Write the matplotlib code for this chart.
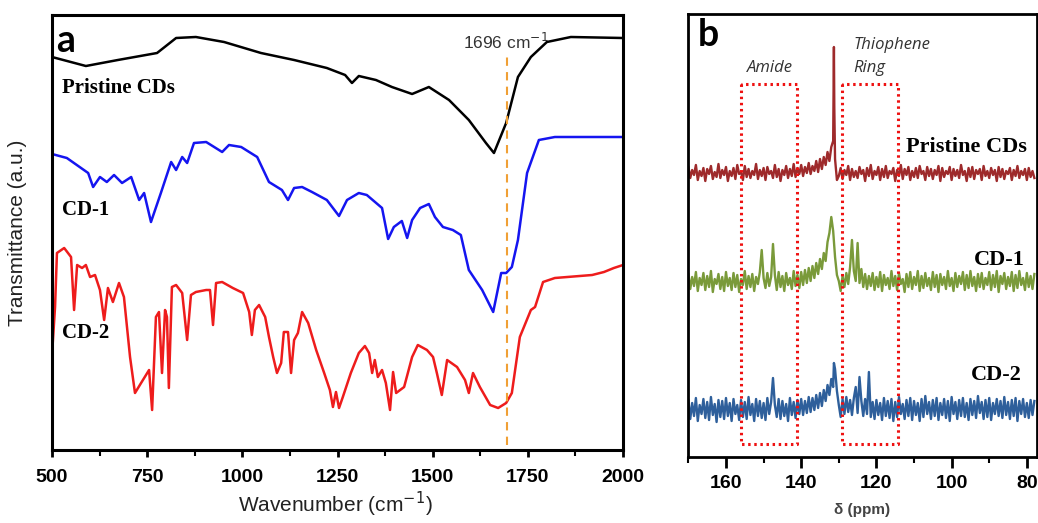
import numpy as np
import matplotlib
matplotlib.use("Agg")
import matplotlib.pyplot as plt
from matplotlib.ticker import MultipleLocator

# ---------------- Panel a: FTIR ----------------
WN_PRISTINE = [500, 589, 673, 776, 826, 878, 952, 1049, 1136, 1222, 1270, 1288, 1306, 1351,
               1393, 1446, 1490, 1543, 1595, 1640, 1661, 1693, 1724, 1758, 1800, 1863, 2000]
T_PRISTINE = [393, 384, 390, 397, 412, 413, 408, 397, 390, 382, 375, 367, 374, 370,
              363, 356, 363, 350, 330, 307, 297, 327, 373, 393, 408, 413, 412]

WN_CD1 = [500, 539, 595, 608, 626, 644, 663, 684, 708, 729, 742, 760, 786, 813, 826, 842, 855,
          873, 905, 926, 947, 965, 997, 1039, 1070, 1104, 1120, 1136, 1157, 1183, 1222, 1254,
          1275, 1306, 1327, 1367, 1383, 1398, 1419, 1433, 1446, 1467, 1490, 1506, 1527, 1553,
          1574, 1595, 1630, 1659, 1680, 1693, 1708, 1724, 1748, 1779, 1821, 2000]
T_CD1 = [296, 292, 277, 263, 273, 268, 275, 267, 273, 250, 257, 228, 257, 288, 280, 293, 287,
         307, 308, 303, 298, 305, 303, 293, 268, 260, 250, 262, 263, 258, 250, 234,
         250, 257, 255, 242, 211, 223, 229, 212, 230, 242, 246, 233, 223, 220,
         215, 180, 160, 138, 177, 177, 183, 210, 277, 310, 313, 313]

WN_CD2 = [500, 508, 513, 532, 550, 558, 566, 579, 589, 600, 613, 626, 637, 647, 660, 676, 689,
          705, 718, 734, 755, 763, 773, 781, 789, 797, 802, 807, 815, 826, 842, 855, 865, 878,
          905, 915, 923, 931, 947, 975, 1002, 1018, 1025, 1033, 1044, 1060, 1070, 1081, 1091,
          1102, 1109, 1120, 1128, 1136, 1146, 1157, 1173, 1194, 1215, 1230, 1238, 1246, 1254,
          1264, 1285, 1306, 1322, 1333, 1341, 1348, 1356, 1367, 1377, 1388, 1396, 1404, 1425,
          1446, 1461, 1485, 1501, 1511, 1524, 1538, 1564, 1585, 1595, 1606, 1624, 1651, 1672,
          1693, 1708, 1729, 1758, 1769, 1790, 1821, 1919, 1950, 1976, 2000]
T_CD2 = [95, 143, 197, 202, 193, 140, 185, 182, 185, 173, 175, 160, 130, 162, 148, 167, 153,
         93, 57, 67, 80, 40, 133, 138, 77, 140, 133, 62, 163, 165, 157, 110, 155, 158,
         160, 160, 125, 167, 168, 162, 157, 138, 115, 140, 145, 133, 113, 93, 77,
         87, 118, 118, 77, 110, 117, 138, 127, 100, 77, 60, 43, 58, 42,
         53, 77, 97, 104, 97, 77, 90, 73, 80, 67, 40, 78, 57, 63,
         93, 105, 100, 93, 77, 55, 90, 83, 70, 57, 77, 63, 45, 42,
         47, 57, 113, 140, 143, 168, 172, 175, 178, 182, 185]

MARK_WN = 1696

# ---------------- Panel b: 13C NMR ----------------
NMR_PPM = [170.0, 169.5, 169.0, 168.5, 168.0, 167.5, 167.0, 166.5, 166.0, 165.5,
           165.0, 164.5, 164.0, 163.5, 163.0, 162.5, 162.0, 161.5, 161.0, 160.5,
           160.0, 159.5, 159.0, 158.5, 158.0, 157.5, 157.0, 156.5, 156.0, 155.5,
           155.0, 154.5, 154.0, 153.5, 153.0, 152.5, 152.0, 151.5, 151.0, 150.5,
           150.0, 149.5, 149.0, 148.5, 148.0, 147.5, 147.0, 146.5, 146.0, 145.5,
           145.0, 144.5, 144.0, 143.5, 143.0, 142.5, 142.0, 141.5, 141.0, 140.5,
           140.0, 139.5, 139.0, 138.5, 138.0, 137.5, 137.0, 136.5, 136.0, 135.5,
           135.0, 134.5, 134.0, 133.5, 133.0, 132.5, 132.0, 131.5, 131.0, 130.5,
           130.0, 129.5, 129.0, 128.5, 128.0, 127.5, 127.0, 126.5, 126.0, 125.5,
           125.0, 124.5, 124.0, 123.5, 123.0, 122.5, 122.0, 121.5, 121.0, 120.5,
           120.0, 119.5, 119.0, 118.5, 118.0, 117.5, 117.0, 116.5, 116.0, 115.5,
           115.0, 114.5, 114.0, 113.5, 113.0, 112.5, 112.0, 111.5, 111.0, 110.5,
           110.0, 109.5, 109.0, 108.5, 108.0, 107.5, 107.0, 106.5, 106.0, 105.5,
           105.0, 104.5, 104.0, 103.5, 103.0, 102.5, 102.0, 101.5, 101.0, 100.5,
           100.0, 99.5, 99.0, 98.5, 98.0, 97.5, 97.0, 96.5, 96.0, 95.5,
           95.0, 94.5, 94.0, 93.5, 93.0, 92.5, 92.0, 91.5, 91.0, 90.5,
           90.0, 89.5, 89.0, 88.5, 88.0, 87.5, 87.0, 86.5, 86.0, 85.5,
           85.0, 84.5, 84.0, 83.5, 83.0, 82.5, 82.0, 81.5, 81.0, 80.5,
           80.0, 79.5, 79.0, 78.5, 78.0]

I_PRISTINE = [290, 279, 287, 282, 292, 277, 286, 281, 289, 276,
              288, 283, 291, 278, 285, 280, 293, 279, 287, 282,
              290, 276, 286, 281, 289, 278, 292, 283, 285, 277,
              291, 280, 288, 279, 286, 282, 293, 278, 287, 281,
              289, 277, 290, 283, 286, 279, 292, 280, 288, 276,
              287, 282, 291, 279, 288, 281, 293, 280, 289, 283,
              292, 281, 290, 284, 294, 283, 291, 286, 296, 285,
              298, 288, 300, 292, 305, 296, 310, 316, 298, 277,
              281, 289, 278, 287, 282, 291, 277, 288, 280, 286,
              279, 290, 283, 287, 276, 289, 281, 292, 278, 286,
              282, 290, 277, 288, 280, 291, 279, 286, 283, 289,
              276, 287, 281, 292, 278, 288, 282, 290, 277, 286,
              280, 289, 279, 291, 283, 286, 277, 290, 281, 288,
              278, 287, 282, 291, 276, 289, 280, 286, 283, 290,
              277, 288, 281, 287, 279, 292, 282, 286, 276, 289,
              280, 290, 278, 287, 283, 288, 277, 291, 281, 286,
              279, 289, 282, 287, 276, 290, 280, 288, 278, 286,
              283, 289, 277, 287, 281, 291, 279, 286, 282, 288,
              277, 289, 280, 286, 279]
PK_PPM_PRISTINE = [131.4, 131.3, 131.2]
PK_I_PRISTINE = [360, 410, 350]

I_CD1 = [183, 168, 180, 171, 185, 166, 179, 172, 184, 167,
         181, 170, 186, 165, 178, 173, 183, 168, 180, 166,
         185, 171, 179, 167, 184, 170, 182, 165, 178, 172,
         186, 168, 181, 170, 183, 166, 180, 173, 185, 207,
         179, 169, 184, 171, 180, 213, 182, 167, 185, 170,
         181, 166, 184, 172, 179, 168, 186, 171, 182, 169,
         185, 172, 187, 174, 189, 176, 191, 179, 194, 183,
         198, 188, 204, 196, 215, 224, 240, 226, 200, 182,
         176, 166, 181, 170, 184, 173, 190, 217, 186, 176,
         214, 174, 188, 170, 183, 168, 181, 171, 184, 167,
         180, 170, 185, 166, 182, 172, 179, 168, 186, 171,
         181, 167, 184, 173, 178, 165, 183, 170, 185, 168,
         180, 172, 186, 166, 181, 169, 184, 171, 179, 167,
         185, 170, 182, 165, 183, 172, 180, 168, 186, 171,
         179, 166, 184, 170, 181, 173, 185, 167, 182, 169,
         186, 171, 180, 166, 183, 170, 184, 168, 179, 172,
         185, 167, 182, 170, 186, 165, 181, 173, 184, 168,
         180, 171, 185, 166, 182, 169, 186, 172, 179, 167,
         184, 170, 181, 168, 183]
PK_PPM_CD1 = []
PK_I_CD1 = []

I_CD2 = [57, 38, 54, 41, 59, 36, 52, 43, 58, 39,
         55, 37, 60, 42, 53, 35, 57, 40, 56, 38,
         59, 41, 54, 36, 58, 43, 52, 37, 57, 40,
         55, 38, 60, 42, 53, 36, 58, 41, 56, 39,
         54, 37, 59, 43, 55, 79, 52, 40, 58, 38,
         56, 41, 53, 36, 59, 42, 55, 39, 57, 43,
         58, 42, 56, 44, 60, 45, 59, 47, 62, 49,
         64, 51, 67, 56, 72, 62, 78, 70, 88, 66,
         52, 40, 58, 43, 60, 45, 57, 42, 59, 70,
         44, 80, 56, 41, 58, 43, 85, 40, 55, 38,
         57, 42, 54, 37, 59, 41, 56, 39, 58, 36,
         55, 40, 60, 43, 53, 38, 57, 41, 59, 37,
         56, 42, 54, 36, 58, 40, 61, 43, 55, 38,
         57, 41, 59, 37, 54, 42, 58, 39, 56, 36,
         60, 43, 55, 38, 57, 41, 59, 40, 54, 37,
         58, 42, 56, 39, 61, 44, 55, 38, 57, 40,
         59, 37, 54, 43, 58, 41, 56, 39, 60, 42,
         55, 38, 57, 41, 59, 36, 56, 43, 58, 40,
         54, 39, 57, 42, 56]
PK_PPM_CD2 = [131.3]
PK_I_CD2 = [94]

BOX_AMIDE = (156.0, 141.1)
BOX_THIO = (129.1, 114.3)
BOX_LOW, BOX_HIGH = 13, 373


def merged(ppm, val, pk_ppm, pk_val):
    x = np.array(list(ppm) + list(pk_ppm), dtype=float)
    y = np.array(list(val) + list(pk_val), dtype=float)
    order = np.argsort(-x, kind="stable")
    return x[order], y[order]


W, H = 1038, 523
fig = plt.figure(figsize=(W / 100, H / 100), dpi=100)

SANS = ["Liberation Sans", "DejaVu Sans"]
SERIF = ["Liberation Serif", "DejaVu Serif"]

# ---- Panel a ----
axa = fig.add_axes([52 / W, (H - 450) / H, (623 - 52) / W, (450 - 15) / H])
axa.plot(WN_PRISTINE, T_PRISTINE, color="black", lw=1.8)
axa.plot(WN_CD1, T_CD1, color="#1515f0", lw=1.8)
axa.plot(WN_CD2, T_CD2, color="#ee1c1c", lw=1.8)
axa.plot([MARK_WN, MARK_WN], [5, 395], color="#f0a035", lw=1.5, ls=(0, (4, 3)))
axa.set_xlim(500, 2000)
axa.set_ylim(0, 435)
axa.set_yticks([])
axa.xaxis.set_major_locator(MultipleLocator(250))
axa.xaxis.set_minor_locator(MultipleLocator(125))
axa.tick_params(axis="x", which="major", direction="out", length=5, width=2, pad=9,
                labelsize=14)
axa.tick_params(axis="x", which="minor", direction="out", length=4, width=1.5)
for lab in axa.get_xticklabels():
    lab.set_fontweight("bold")
    lab.set_family(SANS)
for s in axa.spines.values():
    s.set_linewidth(2.2)
axa.set_xlabel("Wavenumber (cm$^{-1}$)", fontsize=15, family=SANS, color="#222222")
axa.xaxis.set_label_coords(0.496, -0.125)
axa.xaxis.label.set_va("center")
axa.set_ylabel("Transmittance (a.u.)", fontsize=15, family=SANS, color="#222222")
axa.yaxis.set_label_coords(-0.06, 0.5)
axa.yaxis.label.set_va("center")

axa.text(0.008, 0.94, "a", transform=axa.transAxes, fontsize=27, fontweight="bold",
         family=["Lato", "DejaVu Sans"], va="center", ha="left")
axa.text(1692, 408, "1696 cm$^{-1}$", fontsize=12.5, family=SANS, color="#333333",
         ha="center", va="center")
axa.text(526, 362, "Pristine CDs", fontsize=15, fontweight="bold", family=SERIF,
         va="center", ha="left")
axa.text(526, 240, "CD-1", fontsize=15, fontweight="bold", family=SERIF,
         va="center", ha="left")
axa.text(526, 117, "CD-2", fontsize=15, fontweight="bold", family=SERIF,
         va="center", ha="left")

# ---- Panel b ----
axb = fig.add_axes([688 / W, (H - 457) / H, (1037 - 688) / W, (457 - 14) / H])
xp, yp = merged(NMR_PPM, I_PRISTINE, PK_PPM_PRISTINE, PK_I_PRISTINE)
x1, y1 = merged(NMR_PPM, I_CD1, PK_PPM_CD1, PK_I_CD1)
x2, y2 = merged(NMR_PPM, I_CD2, PK_PPM_CD2, PK_I_CD2)
axb.plot(xp, yp, color="#9e2a2b", lw=1.7)
axb.plot(x1, y1, color="#7a9a3a", lw=1.7)
axb.plot(x2, y2, color="#2e5f9b", lw=1.7)
for lo, hi in (BOX_AMIDE, BOX_THIO):
    axb.plot([lo, lo, hi, hi, lo], [BOX_HIGH, BOX_LOW, BOX_LOW, BOX_HIGH, BOX_HIGH],
             color="#ee1111", lw=2.2, ls=(0, (0.8, 1.2)))
axb.set_xlim(170.1, 77.3)
axb.set_ylim(0, 443)
axb.set_yticks([])
axb.xaxis.set_major_locator(MultipleLocator(20))
axb.xaxis.set_minor_locator(MultipleLocator(10))
axb.tick_params(axis="x", which="major", direction="out", length=8, width=2, pad=5,
                labelsize=14)
axb.tick_params(axis="x", which="minor", direction="out", length=4, width=1.5)
for lab in axb.get_xticklabels():
    lab.set_fontweight("bold")
    lab.set_family(SANS)
for s in axb.spines.values():
    s.set_linewidth(2)
axb.set_xlabel("δ (ppm)", fontsize=11, fontweight="bold", family=SANS, color="#444444")
axb.xaxis.set_label_coords(0.5, -0.12)
axb.xaxis.label.set_va("center")

axb.text(0.029, 0.953, "b", transform=axb.transAxes, fontsize=27, fontweight="bold",
         family=["Lato", "DejaVu Sans"], va="center", ha="left")
axb.text(148.3, 389, "Amide", fontsize=12, style="italic", family=["Open Sans", "DejaVu Sans"],
         color="#333333", ha="center", va="center")
axb.text(126.2, 412, "Thiophene", fontsize=12, style="italic",
         family=["Open Sans", "DejaVu Sans"], color="#333333", ha="left", va="center")
axb.text(126.2, 389, "Ring", fontsize=12, style="italic", family=["Open Sans", "DejaVu Sans"],
         color="#333333", ha="left", va="center")
axb.text(79.9, 310, "Pristine CDs", fontsize=16, fontweight="bold", family=SERIF,
         ha="right", va="center")
axb.text(80.5, 197, "CD-1", fontsize=16, fontweight="bold", family=SERIF,
         ha="right", va="center")
axb.text(81.3, 82, "CD-2", fontsize=16, fontweight="bold", family=SERIF,
         ha="right", va="center")

fig.savefig("out.png", dpi=100)
